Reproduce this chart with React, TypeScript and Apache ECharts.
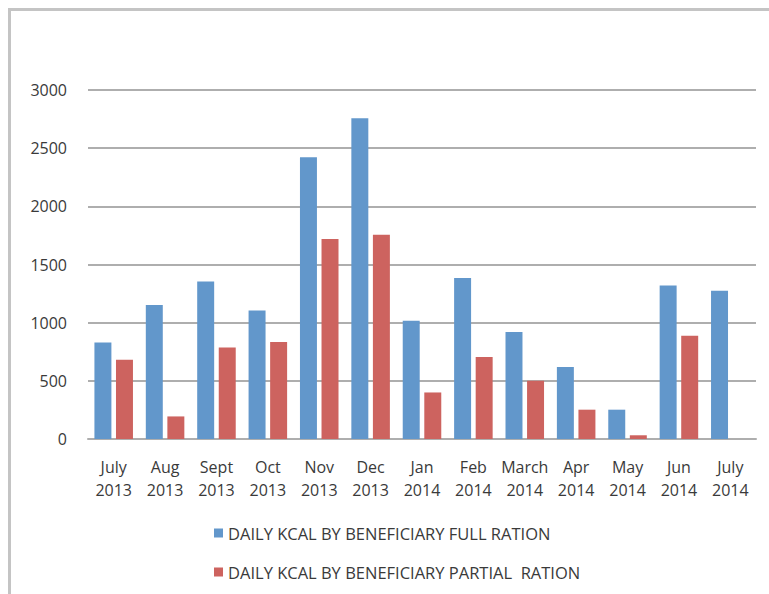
import React, { useEffect, useRef } from "react";
import * as echarts from "echarts";

const categories = [
  "July\n2013", "Aug\n2013", "Sept\n2013", "Oct\n2013", "Nov\n2013", "Dec\n2013",
  "Jan\n2014", "Feb\n2014", "March\n2014", "Apr\n2014", "May\n2014", "Jun\n2014", "July\n2014",
];
const fullRation = [830, 1151, 1354, 1105, 2422, 2757, 1016, 1385, 919, 618, 252, 1319, 1274];
const partialRation = [681, 194, 787, 833, 1720, 1755, 400, 704, 501, 252, 32, 887, null];
const seriesNames = [
  "DAILY KCAL BY BENEFICIARY FULL RATION",
  "DAILY KCAL BY BENEFICIARY PARTIAL  RATION",
];

const FONT = "'Open Sans', 'Liberation Sans', sans-serif";

export default function App() {
  const ref = useRef<HTMLDivElement>(null);
  useEffect(() => {
    if (!ref.current) return;
    const chart = echarts.init(ref.current, undefined, { renderer: "svg" });
    chart.setOption({
      animation: false,
      backgroundColor: "#ffffff",
      grid: { left: 88, right: 13, top: 90, bottom: 155, containLabel: false },
      legend: {
        orient: "vertical",
        left: 209,
        top: 519,
        itemWidth: 9,
        itemHeight: 9,
        itemGap: 21,
        icon: "rect",
        textStyle: { fontFamily: FONT, fontSize: 16.5, color: "#3a3a3a", lineHeight: 18 },
        data: seriesNames,
      },
      xAxis: {
        type: "category",
        data: categories,
        axisLine: { lineStyle: { color: "#aeaeae", width: 2 } },
        axisTick: { show: false },
        axisLabel: {
          fontFamily: FONT,
          fontSize: 16,
          color: "#3a3a3a",
          lineHeight: 23,
          margin: 16,
          interval: 0,
        },
      },
      yAxis: {
        type: "value",
        min: 0,
        max: 3000,
        interval: 500,
        axisLine: { show: false },
        axisTick: { show: false },
        splitLine: { lineStyle: { color: "#aeaeae", width: 2 } },
        axisLabel: {
          fontFamily: FONT,
          fontSize: 16,
          color: "#3a3a3a",
          margin: 21,
          formatter: (v: number) => String(v),
        },
      },
      series: [
        {
          name: seriesNames[0],
          type: "bar",
          data: fullRation,
          itemStyle: { color: "#6297cb" },
          barGap: "27%",
          barCategoryGap: "25%",
        },
        {
          name: seriesNames[1],
          type: "bar",
          data: partialRation,
          itemStyle: { color: "#cd635f" },
          barGap: "27%",
          barCategoryGap: "25%",
        },
      ],
    });
    return () => chart.dispose();
  }, []);
  return (
    <div style={{ position: "fixed", left: 0, top: 0, width: 769, height: 594, background: "#fff" }}>
      <div ref={ref} style={{ position: "absolute", left: 0, top: 0, width: 769, height: 594 }} />
      <div
        style={{
          position: "absolute",
          left: 8,
          top: 8,
          right: 0,
          bottom: 0,
          borderTop: "3px solid #c4c4c4",
          borderLeft: "3px solid #c4c4c4",
          pointerEvents: "none",
        }}
      />
    </div>
  );
}
